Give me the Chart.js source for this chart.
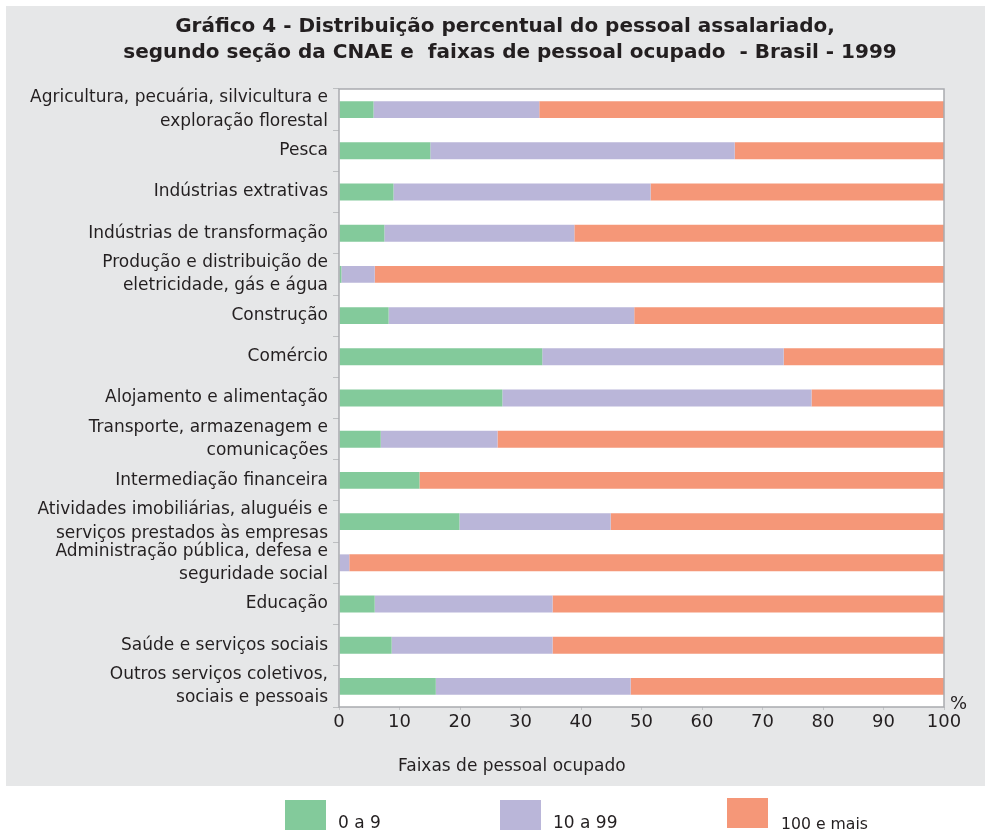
<!DOCTYPE html>
<html>
<head>
<meta charset="utf-8">
<script src="https://cdn.jsdelivr.net/npm/chart.js@4"></script>
<style>
  html, body { margin: 0; padding: 0; background: #ffffff; }
  #wrap { width: 991px; height: 831px; position: relative; }
</style>
</head>
<body>
<div id="wrap"><canvas id="c" width="991" height="831"></canvas></div>
<script>
const categories = [
  ["Agricultura, pecuária, silvicultura e", "exploração florestal"],
  "Pesca",
  "Indústrias extrativas",
  "Indústrias de transformação",
  ["Produção e distribuição de", "eletricidade, gás e água"],
  "Construção",
  "Comércio",
  "Alojamento e alimentação",
  ["Transporte, armazenagem e", "comunicações"],
  "Intermediação financeira",
  ["Atividades imobiliárias, aluguéis e", "serviços prestados às empresas"],
  ["Administração pública, defesa e", "seguridade social"],
  "Educação",
  "Saúde e serviços sociais",
  ["Outros serviços coletivos,", "sociais e pessoais"]
];
const seriesNames = ["0 a 9", "10 a 99", "100 e mais"];
const small = [5.7, 15.1, 9.0, 7.5, 0.4, 8.2, 33.6, 27.0, 6.9, 13.3, 19.9, 0.0, 5.9, 8.7, 16.0];
const medium = [27.4, 50.3, 42.5, 31.4, 5.5, 40.6, 39.9, 51.1, 19.3, 0.0, 25.0, 1.7, 29.4, 26.6, 32.2];
const large = [66.9, 34.6, 48.5, 61.1, 94.1, 51.2, 26.5, 21.9, 73.8, 86.7, 55.1, 98.3, 64.7, 64.7, 51.8];
const titleLines = [
  "Gráfico 4 - Distribuição percentual do pessoal assalariado,",
  "segundo seção da CNAE e  faixas de pessoal ocupado  - Brasil - 1999"
];
const axisTitle = "Faixas de pessoal ocupado";
const unitLabel = "%";

const colors = ["#83ca9b", "#bab6d9", "#f59778"];
const textColor = "#231f20";
const FONT = "'DejaVu Sans', 'Liberation Sans', sans-serif";

const decor = {
  id: "decor",
  beforeDraw(chart) {
    const ctx = chart.ctx;
    const a = chart.chartArea;
    ctx.save();
    ctx.fillStyle = "#ffffff";
    ctx.fillRect(0, 0, chart.width, chart.height);
    ctx.fillStyle = "#e6e7e8";
    ctx.fillRect(6, 6, 979, 780);
    ctx.fillStyle = "#ffffff";
    ctx.fillRect(a.left, a.top, a.right - a.left, a.bottom - a.top);
    ctx.restore();
  },
  afterDraw(chart) {
    const ctx = chart.ctx;
    const a = chart.chartArea;
    ctx.save();
    // plot frame
    ctx.strokeStyle = "#a9abae";
    ctx.lineWidth = 1.5;
    ctx.strokeRect(a.left, a.top, a.right - a.left, a.bottom - a.top);
    // title
    ctx.fillStyle = textColor;
    ctx.textAlign = "center";
    ctx.textBaseline = "alphabetic";
    ctx.font = "bold 20px " + FONT;
    ctx.fillText(titleLines[0], 505, 32);
    ctx.fillText(titleLines[1], 510, 58);
    // axis title & unit
    ctx.textAlign = "left";
    ctx.font = "17px " + FONT;
    ctx.fillText(axisTitle, 398, 771);
    ctx.font = "18px " + FONT;
    ctx.fillText(unitLabel, a.right + 6, a.bottom + 2);
    // legend
    const boxes = [
      {x: 285, y: 800, tx: 338, ty: 828, size: 17},
      {x: 500, y: 800, tx: 553, ty: 828, size: 17},
      {x: 727, y: 798, tx: 781, ty: 829, size: 15.7}
    ];
    chart.data.datasets.forEach((ds, i) => {
      const b = boxes[i];
      ctx.fillStyle = ds.backgroundColor;
      ctx.fillRect(b.x, b.y, 41, 30);
      ctx.fillStyle = textColor;
      ctx.font = b.size + "px " + FONT;
      ctx.fillText(ds.label, b.tx, b.ty);
    });
    ctx.restore();
  }
};

new Chart(document.getElementById("c"), {
  type: "bar",
  data: {
    labels: categories,
    datasets: [
      {label: seriesNames[0], data: small, backgroundColor: colors[0]},
      {label: seriesNames[1], data: medium, backgroundColor: colors[1]},
      {label: seriesNames[2], data: large, backgroundColor: colors[2]}
    ]
  },
  options: {
    indexAxis: "y",
    responsive: false,
    animation: false,
    devicePixelRatio: 1,
    barPercentage: 0.41,
    categoryPercentage: 1,
    layout: { padding: { top: 89, right: 47, bottom: 94, left: 0 } },
    plugins: {
      legend: { display: false },
      title: { display: false },
      tooltip: { enabled: false }
    },
    scales: {
      x: {
        stacked: true,
        min: 0, max: 100,
        ticks: {
          stepSize: 10,
          color: textColor,
          font: { family: FONT, size: 18 },
          padding: 2,
          maxRotation: 0
        },
        grid: { display: true, drawOnChartArea: false, tickLength: 3, color: "#c4c6c8" },
        border: { display: false },
        afterFit(scale) { scale.height = 30; }
      },
      y: {
        stacked: true,
        ticks: {
          color: textColor,
          font: { family: FONT, size: 17, lineHeight: 1.37 },
          padding: 5,
          autoSkip: false
        },
        grid: { offset: true, drawOnChartArea: false, tickLength: 6, color: "#bcbec0" },
        border: { display: false },
        afterFit(scale) { scale.width = 339; }
      }
    }
  },
  plugins: [decor]
});
</script>
</body>
</html>
